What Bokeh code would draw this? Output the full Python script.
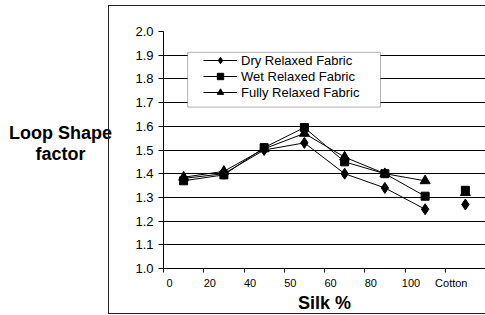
from bokeh.plotting import figure
from bokeh.models import (Range1d, FixedTicker, CustomJSTickFormatter, Legend, LegendItem,
                          BoxAnnotation, NumeralTickFormatter, InlineStyleSheet, Label)
from bokeh.embed import file_html
from bokeh.resources import INLINE

# ---- data ----
categories = ["0", "20", "40", "50", "60", "80", "100", "Cotton"]
dry_relaxed = [1.38, 1.40, 1.50, 1.53, 1.40, 1.34, 1.25, 1.27]
wet_relaxed = [1.37, 1.395, 1.51, 1.595, 1.45, 1.40, 1.305, 1.33]
fully_relaxed = [1.385, 1.41, 1.505, 1.57, 1.47, 1.40, 1.37, 1.32]
y_ticks = [1.0, 1.1, 1.2, 1.3, 1.4, 1.5, 1.6, 1.7, 1.8, 1.9, 2.0]
n_lined = 7  # the Cotton point is not joined to the silk series

FONT = "Liberation Sans"

xs = [i + 0.5 for i in range(len(categories))]

p = figure(width=485, height=315, output_backend="svg", toolbar_location=None,
           x_range=Range1d(0, len(categories)), y_range=Range1d(1.0, 2.0),
           min_border_left=163, min_border_right=0, min_border_top=31, min_border_bottom=46)
p.outline_line_color = None
p.background_fill_color = "white"
p.border_fill_color = "white"

# outer chart frame drawn as a CSS box over the canvas
p.stylesheets = [InlineStyleSheet(css=(
    ":host { position: relative; overflow: visible; }"
    ":host::after { content: ''; position: absolute; left: 108px; top: 5px; "
    "width: 420px; height: 309px; border: 1px solid #222; box-sizing: border-box; "
    "pointer-events: none; }"))]

# y axis
p.yaxis.ticker = FixedTicker(ticks=y_ticks)
p.yaxis.formatter = NumeralTickFormatter(format="0.0")
p.yaxis.major_label_text_font = FONT
p.yaxis.major_label_text_font_size = "13px"
p.yaxis.major_label_text_color = "black"
p.yaxis.major_tick_out = 5
p.yaxis.major_tick_in = 0
p.yaxis.minor_tick_out = 0
p.yaxis.major_label_standoff = 5
p.yaxis.axis_line_color = "black"
p.yaxis.major_tick_line_color = "black"

# y-axis title, two centred lines, in the left side panel
p.add_layout(Label(x=60, y=143, x_units="canvas", y_units="canvas",
                   text="Loop Shape\nfactor", text_align="center", text_baseline="middle",
                   text_font=FONT, text_font_size="18px", text_font_style="bold",
                   text_color="black", text_line_height=1.05), "left")

# x axis
p.xaxis.ticker = FixedTicker(ticks=[i + 0.15 for i in range(len(categories))],
                             minor_ticks=list(range(len(categories) + 1)))
p.xaxis.formatter = CustomJSTickFormatter(args=dict(cats=categories),
                                          code="return cats[Math.floor(tick)] || '';")
p.xaxis.major_tick_out = 0
p.xaxis.major_tick_in = 0
p.xaxis.minor_tick_out = 4
p.xaxis.minor_tick_in = 0
p.xaxis.minor_tick_line_color = "black"
p.xaxis.axis_line_color = "black"
p.xaxis.major_label_text_font = FONT
p.xaxis.major_label_text_font_size = "11px"
p.xaxis.major_label_text_color = "black"
p.xaxis.major_label_standoff = 4
p.xaxis.axis_label = "Silk %"
p.xaxis.axis_label_text_font = FONT
p.xaxis.axis_label_text_font_size = "18px"
p.xaxis.axis_label_text_font_style = "bold"
p.xaxis.axis_label_text_color = "black"
p.xaxis.axis_label_standoff = 1

p.xgrid.visible = False
p.ygrid.ticker = FixedTicker(ticks=y_ticks)
p.ygrid.grid_line_color = "black"
p.ygrid.grid_line_width = 1

# legend box
p.add_layout(BoxAnnotation(left=0.6, right=5.39, top=1.912, bottom=1.681,
                           fill_color="white", fill_alpha=1, line_color="black", line_width=1))

series = [
    ("Dry Relaxed Fabric", dry_relaxed, "diamond", 11),
    ("Fully Relaxed Fabric", fully_relaxed, "triangle", 10),
    ("Wet Relaxed Fabric", wet_relaxed, "square", 8),
]
items = {}
for name, vals, marker, size in series:
    lr = p.line(xs[:n_lined], vals[:n_lined], line_color="black", line_width=1)
    sr = p.scatter(xs, vals, marker=marker, size=size, fill_color="black", line_color="black")
    items[name] = LegendItem(label=name, renderers=[lr, sr])

legend = Legend(items=[items["Dry Relaxed Fabric"], items["Wet Relaxed Fabric"],
                       items["Fully Relaxed Fabric"]],
                location=(40, 168), orientation="vertical",
                border_line_color=None, background_fill_alpha=0,
                padding=0, spacing=0, margin=0,
                glyph_width=34, glyph_height=16, label_standoff=4,
                label_text_font=FONT, label_text_font_size="13px", label_text_color="black")
p.add_layout(legend)

open("out.html", "w").write(file_html(p, INLINE))
